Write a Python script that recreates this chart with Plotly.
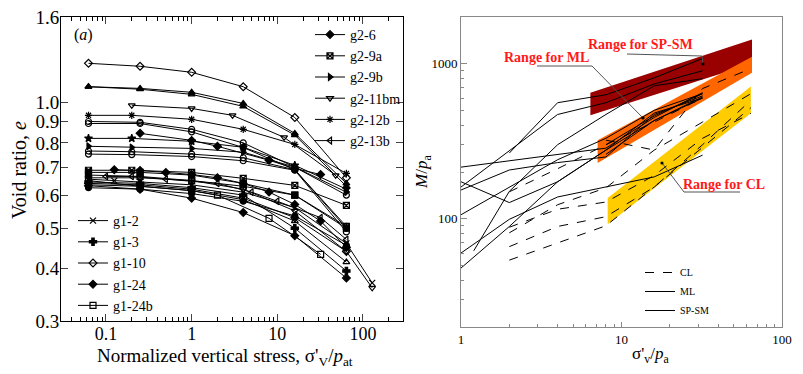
import plotly.graph_objects as go

# ---------------- panel (a): void ratio vs normalized vertical stress ----------------
xa = [0.0625, 0.25, 1, 4, 16, 64]
xb = [0.0625, 0.2, 1, 4, 16, 64]

# (name, marker symbol, x values, void ratios, legend)
curves_a = [
    ("c1", "diamond-open", xa, [1.24, 1.22, 1.18, 1.09, 0.92, 0.66], None),
    ("c2", "triangle-up", xa, [1.09, 1.08, 1.057, 0.994, 0.843, 0.64], None),
    ("c3", "triangle-up", xa, [1.09, 1.075, 1.045, 0.978, 0.835, 0.63], None),
    ("g2-11bm", "triangle-down-open", [0.2, 1, 3, 12, 48], [0.984, 0.967, 0.931, 0.825, 0.669], "legend"),
    ("g2-12b", "asterisk-open", xb, [0.931, 0.931, 0.911, 0.862, 0.793, 0.676], "legend"),
    ("c6", "circle-open", xa, [0.90, 0.896, 0.862, 0.80, 0.70, 0.60], None),
    ("c7", "circle-open", xa, [0.89, 0.89, 0.85, 0.78, 0.69, 0.505], None),
    ("g2-6", "diamond", [0.25, 1, 2, 8, 16, 32], [0.843, 0.811, 0.785, 0.727, 0.695, 0.672], "legend"),
    ("c9", "star", xb, [0.82, 0.82, 0.807, 0.781, 0.707, 0.62], None),
    ("g2-9b", "triangle-right", xb, [0.785, 0.78, 0.776, 0.76, 0.70, 0.61], "legend"),
    ("c11", "circle-open", xb, [0.765, 0.762, 0.752, 0.737, 0.69, 0.50], None),
    ("c12", "circle-open", xb, [0.752, 0.75, 0.742, 0.725, 0.688, 0.49], None),
    ("g2-9a", "square-x-open", xb, [0.688, 0.688, 0.68, 0.658, 0.633, 0.567], "legend"),
    ("c14", "diamond", [0.125, 0.25, 0.5, 1, 2, 4, 8, 16, 32, 64],
     [0.69, 0.687, 0.68, 0.672, 0.66, 0.64, 0.61, 0.57, 0.52, 0.45], None),
    ("c15", "square", xa, [0.68, 0.68, 0.67, 0.64, 0.60, 0.50], None),
    ("g2-13b", "triangle-left-open", [0.1, 0.2, 0.5, 2, 5, 10, 32, 64],
     [0.665, 0.665, 0.655, 0.64, 0.61, 0.58, 0.53, 0.47], "legend"),
    ("c17", "triangle-down-open", [0.0625, 0.25, 1, 4, 16, 64, 128],
     [0.66, 0.66, 0.65, 0.62, 0.55, 0.44, 0.36], None),
    ("g1-2", "x-thin-open", [0.0625, 0.125, 0.25, 1, 4, 16, 64, 128],
     [0.655, 0.65, 0.645, 0.635, 0.61, 0.56, 0.46, 0.37], "legend2"),
    ("g1-3", "cross", xa, [0.645, 0.64, 0.625, 0.60, 0.50, 0.395], "legend2"),
    ("g1-10", "diamond-open", xa, [0.64, 0.635, 0.62, 0.59, 0.53, 0.44], "legend2"),
    ("g1-24", "diamond", [0.0625, 0.25, 1, 4, 16, 64], [0.632, 0.62, 0.59, 0.545, 0.48, 0.38], "legend2"),
    ("g1-24b", "square-open", [0.0625, 0.25, 1, 2, 8, 32], [0.65, 0.63, 0.615, 0.60, 0.528, 0.433], "legend2"),
    ("c23", "triangle-up-open", xa, [0.635, 0.63, 0.615, 0.585, 0.52, 0.415], None),
    ("c24", "circle", xa, [0.625, 0.62, 0.605, 0.58, 0.535, 0.455], None),
    ("c25", "square-cross-open", xa, [0.67, 0.665, 0.65, 0.63, 0.60, 0.505], None),
]
legend_order = ["g2-6", "g2-9a", "g2-9b", "g2-11bm", "g2-12b", "g2-13b",
                "g1-2", "g1-3", "g1-10", "g1-24", "g1-24b"]

e_ticks = [0.3, 0.4, 0.5, 0.6, 0.7, 0.8, 0.9, 1.0, 1.6]
e_ticktext = ["0.3", "0.4", "0.5", "0.6", "0.7", "0.8", "0.9", "1.0", "1.6"]
s_ticks = [0.1, 1, 10, 100]

# ---------------- panel (b): modulus vs stress ----------------
# (group, x values, M/pa)
lines_b = [
    ("SP-SM", [2, 4, 8, 16, 32], [265, 560, 630, 810, 1080]),
    ("SP-SM", [1, 4, 8, 16, 32], [160, 470, 560, 740, 900]),
    ("SP-SM", [1.2, 2, 4, 8, 16, 32], [62, 150, 300, 470, 720, 800]),
    ("ML", [1, 8, 16, 32], [215, 285, 450, 650]),
    ("ML", [1, 2, 4, 8, 16, 32], [173, 127, 173, 277, 480, 600]),
    ("ML", [1, 2, 4, 8, 16, 32], [153, 206, 230, 250, 470, 620]),
    ("ML", [1, 2, 4, 8, 16, 32], [106, 160, 240, 330, 500, 640]),
    ("ML", [1, 2, 4, 8, 16, 32], [60, 99, 138, 160, 186, 257]),
    ("ML", [1, 2, 4, 8, 16, 32], [48, 89, 173, 277, 430, 610]),
    ("ML", [8, 16, 32], [300, 460, 640]),
    ("ML", [8, 16, 32], [260, 430, 600]),
    ("CL", [8, 16, 32, 64], [321, 277, 691, 929]),
    ("CL", [2, 4, 8, 16, 32], [149, 210, 300, 420, 600]),
    ("CL", [2, 4, 8, 16, 32, 64], [81, 123, 158, 277, 420, 640]),
    ("CL", [2, 4, 8, 16, 32, 64], [66, 89, 103, 160, 300, 580]),
    ("CL", [2, 8, 16, 32, 64], [54, 90, 160, 290, 520]),
    ("CL", [2, 4, 8, 16, 32, 64], [88, 115, 128, 190, 330, 478]),
]

# shaded ranges (polygon corners)
sp_x = [6.4, 65, 65, 6.4]
sp_y = [650, 1430, 1000, 464]
ml_x = [7.1, 65, 65, 7.1]
ml_y = [321, 1110, 875, 229]
cl_x = [8.2, 64, 64, 8.2]
cl_y = [136, 713, 478, 92]

SERIF = "Liberation Serif, Times New Roman, serif"

fig = go.Figure()

for name, sym, xs, ys, leg in curves_a:
    show = leg is not None
    fig.add_trace(go.Scatter(
        x=xs, y=ys, mode="lines+markers", name=name,
        line=dict(color="black", width=1),
        marker=dict(symbol=sym, size=6, color="black",
                    line=dict(color="black", width=1.2)),
        showlegend=show, legend=leg if show else "legend",
        legendrank=legend_order.index(name) if show else 1000,
        xaxis="x", yaxis="y",
    ))

band_colors = {"SP-SM": "#990000", "ML": "#ff6600", "CL": "#ffcc00"}
for key, bx, by in [("SP-SM", sp_x, sp_y), ("ML", ml_x, ml_y), ("CL", cl_x, cl_y)]:
    fig.add_trace(go.Scatter(
        x=bx, y=by, fill="toself", mode="lines", line=dict(width=0),
        fillcolor=band_colors[key], showlegend=False, hoverinfo="skip",
        xaxis="x2", yaxis="y2",
    ))

seen = set()
for grp, xs, ys in lines_b:
    first = grp not in seen
    seen.add(grp)
    fig.add_trace(go.Scatter(
        x=xs, y=ys, mode="lines", name=grp,
        line=dict(color="black", width=1, dash="dash" if grp == "CL" else "solid"),
        showlegend=first, legend="legend3", legendgroup=grp,
        legendrank={"CL": 1, "ML": 2, "SP-SM": 3}[grp],
        xaxis="x2", yaxis="y2",
    ))

# the page body adds an 8px offset, so the figure is laid out 8px short of the window
OFF = 8
W, H = 803 - OFF, 374 - OFF


def px(x):
    return (x - OFF) / W


def py(y):
    return 1 - (y - OFF) / H


minor_x = [m * 10 ** d for d in range(-2, 3) for m in range(2, 10)]

fig.update_layout(
    width=W, height=H,
    margin=dict(l=0, r=0, t=0, b=0, autoexpand=False),
    paper_bgcolor="white", plot_bgcolor="white",
    font=dict(family=SERIF, color="black"),
    xaxis=dict(
        domain=[px(61), px(403)], type="log", range=[-1.525, 2.467],
        tickvals=s_ticks, ticktext=["0.1", "1", "10", "100"],
        ticks="inside", ticklen=7, showline=True, linecolor="black", mirror="ticks",
        showgrid=False, zeroline=False, tickfont=dict(size=18, family=SERIF),
        minor=dict(tickmode="array", tickvals=minor_x, ticks="inside", ticklen=4,
                   tickcolor="black", showgrid=False),
        anchor="y", automargin=False, ticklabelstandoff=-4,
    ),
    yaxis=dict(
        domain=[py(321), py(17)], type="log", range=[-0.52295, 0.20415],
        tickvals=e_ticks, ticktext=e_ticktext,
        ticks="inside", ticklen=7, showline=True, linecolor="black", mirror="ticks",
        showgrid=False, zeroline=False, tickfont=dict(size=19, family=SERIF),
        anchor="x", automargin=False, ticklabelstandoff=-3,
        ticklabeloverflow="allow",
    ),
    xaxis2=dict(
        domain=[px(461), px(782)], type="log", range=[0, 2],
        tickvals=[1, 10, 100], ticktext=["1", "10", "100"],
        ticks="inside", ticklen=5, showline=True, linecolor="#888888", mirror=True,
        showgrid=False, zeroline=False, tickfont=dict(size=13, family=SERIF),
        minor=dict(tickmode="array", tickvals=minor_x, ticks="inside", ticklen=3,
                   tickcolor="#888888", showgrid=False),
        tickcolor="#888888", anchor="y2", automargin=False,
    ),
    yaxis2=dict(
        domain=[py(327), py(17)], type="log", range=[1.301, 3.301],
        tickvals=[100, 1000], ticktext=["100", "1000"],
        ticks="inside", ticklen=6, showline=True, linecolor="#888888", mirror=True,
        showgrid=False, zeroline=False, tickfont=dict(size=13, family=SERIF),
        minor=dict(tickmode="array", tickvals=minor_x, ticks="inside", ticklen=3,
                   tickcolor="#888888", showgrid=False),
        tickcolor="#888888", anchor="x2", automargin=False,
    ),
    legend=dict(
        x=px(310), y=py(19), xanchor="left", yanchor="top",
        bgcolor="rgba(0,0,0,0)", font=dict(size=14, family=SERIF),
        itemwidth=30, tracegroupgap=0,
    ),
    legend2=dict(
        x=px(73), y=py(205), xanchor="left", yanchor="top",
        bgcolor="rgba(0,0,0,0)", font=dict(size=14, family=SERIF),
        itemwidth=30, tracegroupgap=0,
    ),
    legend3=dict(
        x=px(640), y=py(258), xanchor="left", yanchor="top",
        bgcolor="rgba(0,0,0,0)", font=dict(size=10, family=SERIF),
        itemwidth=30, tracegroupgap=0,
    ),
)

ann = [
    dict(x=px(83), y=py(35), text="(<i>a</i>)", font=dict(size=16)),
    dict(x=px(225), y=py(357),
         text="Normalized vertical stress, σ'<sub>V</sub>/<i>p</i><sub>at</sub>",
         font=dict(size=19)),
    dict(x=px(19), y=py(170), text="Void ratio, <i>e</i>", textangle=-90,
         font=dict(size=20)),
    dict(x=px(650), y=py(355), text="σ'<sub>v</sub>/<i>p</i><sub>a</sub>",
         font=dict(size=17)),
    dict(x=px(423), y=py(172), text="<i>M</i>/<i>p</i><sub>a</sub>", textangle=-90,
         font=dict(size=17)),
    dict(x=px(640), y=py(44), text="<b>Range for SP-SM</b>", font=dict(size=14, color="#ff1a1a")),
    dict(x=px(546), y=py(57), text="<b>Range for ML</b>", font=dict(size=14, color="#ff1a1a")),
    dict(x=px(724), y=py(184), text="<b>Range for CL</b>", font=dict(size=14, color="#ff1a1a")),
]
fig.update_layout(annotations=[dict(xref="paper", yref="paper", showarrow=False,
                                    xanchor="center", yanchor="middle", **a) for a in ann])

leaders = [
    [(627, 54), (702, 56), (703, 64)],
    [(537, 66), (592, 66), (643, 118)],
    [(662, 163), (684, 192), (740, 192)],
]
shapes = []
for pts in leaders:
    for (x0, y0), (x1, y1) in zip(pts[:-1], pts[1:]):
        shapes.append(dict(type="line", xref="paper", yref="paper",
                           x0=px(x0), y0=py(y0), x1=px(x1), y1=py(y1),
                           line=dict(color="#555555", width=1)))
for (cx, cy) in [(703, 64), (643, 118), (662, 163)]:
    shapes.append(dict(type="circle", xref="paper", yref="paper",
                       x0=px(cx - 1.6), x1=px(cx + 1.6), y0=py(cy - 1.6), y1=py(cy + 1.6),
                       fillcolor="black", line=dict(width=0)))
fig.update_layout(shapes=shapes)

fig.write_html("out.html")
